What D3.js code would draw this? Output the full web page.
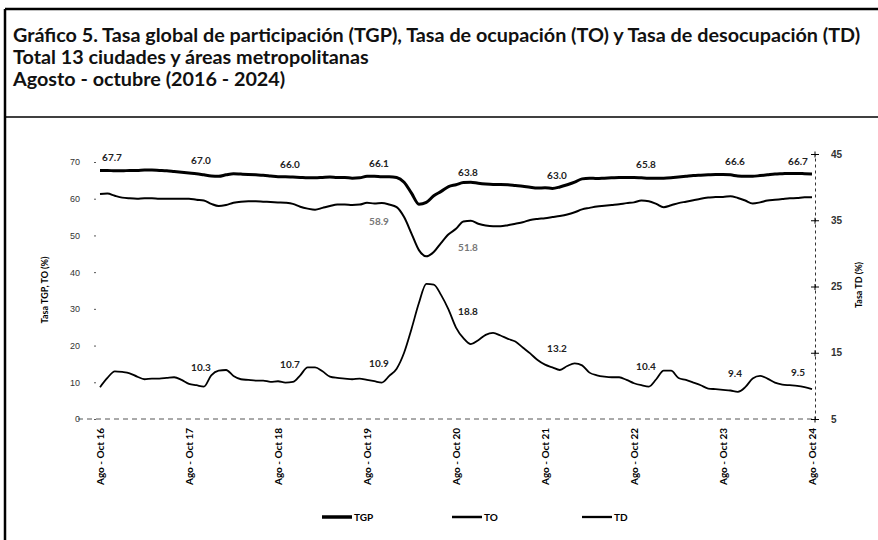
<!DOCTYPE html>
<html>
<head>
<meta charset="utf-8">
<script src="https://cdn.jsdelivr.net/npm/d3@7"></script>
<style>
  body { margin: 0; background: #fff; }
  svg { display: block; font-family: Lato, "Open Sans", sans-serif; }
  .tick text { font-size: 9px; fill: #333; }
</style>
</head>
<body>
<div id="chart"></div>
<script>
// rolling quarter, monthly, from Ago-Oct 2016 (index 0) to Ago-Oct 2024 (index 96)
var tickLabels = ["Ago - Oct 16", "Ago - Oct 17", "Ago - Oct 18", "Ago - Oct 19", "Ago - Oct 20",
                  "Ago - Oct 21", "Ago - Oct 22", "Ago - Oct 23", "Ago - Oct 24"];

var tgp = [
  67.7,67.7,67.6,67.6,67.7,67.7,67.8,67.8,67.7,67.6,
  67.4,67.2,67.0,66.8,66.5,66.2,66.1,66.5,66.8,66.7,
  66.6,66.5,66.4,66.2,66.0,66.0,65.9,65.8,65.7,65.7,
  65.8,65.9,65.8,65.8,65.6,65.7,66.1,66.1,66.0,66.0,
  65.8,64.5,61.5,58.5,59.0,60.8,62.0,63.3,63.8,64.4,
  64.5,64.2,64.0,63.9,63.9,63.8,63.6,63.4,63.1,62.9,
  63.0,62.8,63.2,63.8,64.5,65.4,65.6,65.5,65.6,65.7,
  65.8,65.8,65.8,65.7,65.6,65.6,65.6,65.7,65.9,66.1,
  66.3,66.4,66.5,66.6,66.6,66.5,66.2,66.1,66.1,66.3,
  66.5,66.7,66.8,66.9,66.9,66.8,66.7
];

var to = [
  61.3,61.4,60.8,60.3,60.1,60.0,60.1,60.1,60.0,60.0,
  60.0,60.0,60.0,59.7,59.5,58.6,58.0,58.3,58.9,59.2,
  59.3,59.3,59.2,59.1,59.0,58.9,58.6,57.8,57.3,57.0,
  57.5,58.0,58.4,58.4,58.3,58.4,58.9,58.7,58.8,58.4,
  57.7,55.0,50.5,46.0,44.3,45.5,48.0,50.3,51.8,53.8,
  54.0,53.2,52.7,52.5,52.5,52.8,53.2,53.6,54.2,54.5,
  54.7,55.0,55.3,55.7,56.3,57.1,57.5,57.9,58.1,58.3,
  58.5,58.8,59.0,59.5,59.3,58.6,57.7,58.2,58.8,59.2,
  59.6,60.0,60.3,60.5,60.5,60.7,60.2,59.5,58.7,59.0,
  59.5,59.7,59.9,60.1,60.2,60.4,60.4
];

var td = [
  9.8,11.2,12.2,12.1,11.9,11.4,11.0,11.1,11.1,11.2,
  11.3,10.9,10.3,10.1,9.9,11.6,12.3,12.4,11.5,11.0,
  10.9,10.8,10.8,10.6,10.7,10.5,10.6,11.6,12.8,12.8,
  12.2,11.4,11.2,11.1,11.0,11.1,10.9,10.7,10.5,11.5,
  12.6,15.0,18.6,22.5,25.4,25.3,23.7,21.5,18.8,17.2,
  16.3,16.9,17.7,18.0,17.6,17.1,16.7,15.8,14.9,13.9,
  13.2,12.8,12.4,13.0,13.4,13.1,12.0,11.6,11.4,11.3,
  11.3,10.9,10.4,10.1,9.9,11.0,12.3,12.3,11.2,10.9,
  10.5,10.1,9.6,9.5,9.4,9.3,9.1,9.8,11.1,11.5,
  11.1,10.5,10.2,10.1,10.0,9.8,9.5
];

// printed data labels (index of the month they belong to)
var tgpLabels = [[0,"67.7"],[12,"67.0"],[24,"66.0"],[36,"66.1"],[48,"63.8"],[60,"63.0"],[72,"65.8"],[84,"66.6"],[96,"66.7"]];
var toLabels  = [[36,"58.9"],[48,"51.8"]];
var tdLabels  = [[12,"10.3"],[24,"10.7"],[36,"10.9"],[48,"18.8"],[60,"13.2"],[72,"10.4"],[84,"9.4"],[96,"9.5"]];

var leftTicks  = [0,10,20,30,40,50,60,70];
var rightTicks = [5,15,25,35,45];

var W = 878, H = 540;
var svg = d3.select("#chart").append("svg").attr("width", W).attr("height", H);
svg.append("rect").attr("width", W).attr("height", H).attr("fill", "#fff");

// frame
svg.append("line").attr("x1", 5).attr("x2", W).attr("y1", 9).attr("y2", 9).attr("stroke", "#000").attr("stroke-width", 2.5);
svg.append("line").attr("x1", 5).attr("x2", 5).attr("y1", 9).attr("y2", H).attr("stroke", "#000").attr("stroke-width", 2.5);
svg.append("line").attr("x1", 5).attr("x2", W).attr("y1", 117).attr("y2", 117).attr("stroke", "#000").attr("stroke-width", 1.5);

// titles, fitted to the width of the original heading
var titles = ["Gráfico 5. Tasa global de participación (TGP), Tasa de ocupación (TO) y Tasa de desocupación (TD)",
              "Total 13 ciudades y áreas metropolitanas",
              "Agosto - octubre (2016 - 2024)"];
var tt = svg.selectAll(".title").data(titles).enter().append("text")
    .attr("class", "title")
    .attr("x", 13)
    .attr("y", function(d, i) { return 42 + i * 22; })
    .style("font-weight", "bold").style("font-size", "15px").style("fill", "#111")
    .text(function(d) { return d; });
var len0 = tt.node().getComputedTextLength();
var fs = 15 * 848 / len0;
tt.style("font-size", fs + "px");

var x = d3.scaleLinear().domain([0, 96]).range([100, 812]);
var yL = d3.scaleLinear().domain([0, 70]).range([419, 162]);
var yR = d3.scaleLinear().domain([5, 45]).range([419, 154]);

// baseline
svg.append("line").attr("x1", 78).attr("x2", 815).attr("y1", yL(0)).attr("y2", yL(0))
    .attr("stroke", "#555").attr("stroke-width", 1).attr("stroke-dasharray", "5,4");

// left axis
var gl = svg.append("g").attr("transform", "translate(96,0)")
    .call(d3.axisLeft(yL).tickValues(leftTicks).tickSize(2).tickPadding(14));
gl.select(".domain").remove();
gl.selectAll(".tick line").attr("stroke", "#555");

// right axis
var gr = svg.append("g").attr("transform", "translate(815,0)")
    .call(d3.axisRight(yR).tickValues(rightTicks).tickSizeInner(4).tickSizeOuter(0).tickPadding(12));
gr.select(".domain").attr("stroke", "#333").attr("stroke-dasharray", "3,3");
gr.selectAll(".tick line").attr("x1", -4).attr("stroke", "#000");
gr.selectAll(".tick").append("line").attr("y1", -3).attr("y2", 3).attr("stroke", "#000");
gr.selectAll(".tick text").style("font-size", "10px").style("font-weight", "bold");

// axis titles
svg.append("text").attr("transform", "translate(48,290) rotate(-90)")
    .attr("text-anchor", "middle").style("font-size", "9px").style("font-weight", "bold")
    .text("Tasa TGP, TO (%)");
svg.append("text").attr("transform", "translate(862,285) rotate(-90)")
    .attr("text-anchor", "middle").style("font-size", "9px").style("font-weight", "bold")
    .text("Tasa TD (%)");

// x tick labels
svg.selectAll(".xlab").data(tickLabels).enter().append("text")
    .attr("class", "xlab")
    .attr("transform", function(d, i) { return "translate(" + (x(i * 12) + 4) + ",428) rotate(-90)"; })
    .attr("text-anchor", "end")
    .style("font-size", "10px").style("font-weight", "bold")
    .text(function(d) { return d; });

// lines
var idx = d3.range(tgp.length);
var lineL = function(arr) {
  return d3.line().curve(d3.curveMonotoneX)
      .x(function(i) { return x(i); })
      .y(function(i) { return yL(arr[i]); })(idx);
};
var lineR = d3.line().curve(d3.curveMonotoneX)
    .x(function(i) { return x(i); })
    .y(function(i) { return yR(td[i]); });

svg.append("path").attr("d", lineL(tgp)).attr("fill", "none").attr("stroke", "#000").attr("stroke-width", 3);
svg.append("path").attr("d", lineL(to)).attr("fill", "none").attr("stroke", "#000").attr("stroke-width", 2);
svg.append("path").attr("d", lineR(idx)).attr("fill", "none").attr("stroke", "#000").attr("stroke-width", 1.8);

// data labels
function addLabels(list, yFn, dy, color) {
  svg.selectAll(null).data(list).enter().append("text")
      .attr("x", function(d) { return x(d[0]) + (d[0] == 96 ? -14 : 12); })
      .attr("y", function(d) { return yFn(d[0]) + dy; })
      .attr("text-anchor", "middle")
      .style("font-size", "10px").style("font-weight", "bold").style("fill", color)
      .text(function(d) { return d[1]; });
}
addLabels(tgpLabels, function(i) { return yL(tgp[i]); }, -9, "#222");
addLabels(toLabels, function(i) { return yL(to[i]); }, 22, "#777");
addLabels(tdLabels, function(i) { return yR(td[i]); }, -13, "#222");

// legend
var legend = [["TGP", 3], ["TO", 2], ["TD", 1.8]];
var lg = svg.selectAll(".lg").data(legend).enter().append("g")
    .attr("transform", function(d, i) { return "translate(" + (322 + i * 130) + ",517)"; });
lg.append("line").attr("x1", 0).attr("x2", 30).attr("stroke", "#000")
    .attr("stroke-width", function(d) { return d[1] + 0.5; });
lg.append("text").attr("x", 32).attr("y", 4).style("font-size", "10px").style("font-weight", "bold")
    .text(function(d) { return d[0]; });
</script>
</body>
</html>
